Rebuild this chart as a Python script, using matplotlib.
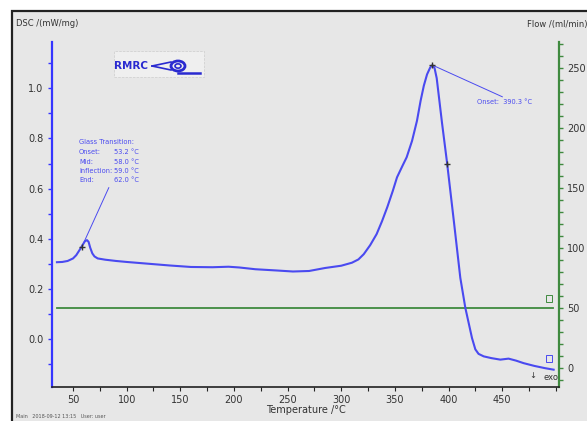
import matplotlib
matplotlib.use("Agg")
import matplotlib.pyplot as plt
from matplotlib.patches import Rectangle, Circle
from matplotlib.ticker import MultipleLocator

# ---- data ----
temperature = [35, 40, 45, 50, 53, 56, 59, 61, 63, 64.5, 66, 68, 70, 73, 80, 90, 100,
               120, 140, 160, 180, 195, 205, 220, 240, 255, 270, 285, 300, 310, 316,
               321, 327, 333, 338, 343, 348, 352, 357, 361, 366, 370.6, 374, 377, 380,
               383, 385, 387, 389, 391.5, 394, 398.6, 405, 411, 415.7, 421.9, 425, 428,
               432.8, 440, 448.3, 456, 463, 470, 480, 490, 498]
dsc = [0.307, 0.308, 0.312, 0.322, 0.335, 0.355, 0.376, 0.39, 0.395, 0.388, 0.365,
       0.342, 0.33, 0.322, 0.317, 0.312, 0.308, 0.301, 0.294, 0.288, 0.287, 0.289,
       0.286, 0.279, 0.274, 0.27, 0.272, 0.284, 0.293, 0.305, 0.318, 0.339, 0.375,
       0.419, 0.47, 0.527, 0.59, 0.645, 0.69, 0.725, 0.79, 0.87, 0.95, 1.01, 1.055,
       1.083, 1.092, 1.08, 1.04, 0.95, 0.86, 0.705, 0.47, 0.245, 0.125, 0.005, -0.04,
       -0.058, -0.068, -0.075, -0.081, -0.077, -0.085, -0.095, -0.106, -0.115, -0.121]
flow_temperature = [35, 497]
flow = [50, 50]
x_ticks = [50, 100, 150, 200, 250, 300, 350, 400, 450]
dsc_ticks = [0.0, 0.2, 0.4, 0.6, 0.8, 1.0]
flow_ticks = [0, 50, 100, 150, 200, 250]
gt_lines = ["Onset:", "Mid:", "Inflection:", "End:"]
gt_values = ["53.2 °C", "58.0 °C", "59.0 °C", "62.0 °C"]
marker_points = [(58, 0.366), (385, 1.092), (399, 0.70)]

W, H = 587, 421
fig = plt.figure(figsize=(W / 100, H / 100), dpi=100)
fig.patch.set_facecolor("white")

def fx(px):
    return px / W

def fy(py):
    return 1 - py / H

# grey panel with black frame
fig.patches.append(Rectangle((fx(12), fy(440)), fx(600), (440 - 11) / H,
                             transform=fig.transFigure, facecolor="#e7e7e7",
                             edgecolor="#222222", lw=1.6, zorder=-5))

blue = "#4a4af0"
spine_blue = "#3535ff"
green = "#3f8a3f"
tick_col = "#333333"

ax = fig.add_axes([fx(52), fy(387), fx(559 - 52), (387 - 42) / H])
ax.patch.set_alpha(0)
ax2 = ax.twinx()
ax2.patch.set_alpha(0)
ax.set_zorder(2)
ax2.set_zorder(1)

ax.plot(temperature, dsc, color=blue, lw=1.5, zorder=3, solid_joinstyle="round")
ax2.plot(flow_temperature, flow, color=green, lw=1.3, zorder=2)

ax.set_xlim(30.4, 503)
ax.set_ylim(-0.19, 1.184)
ax2.set_ylim(-15.8, 271.7)

for a in (ax, ax2):
    a.spines["top"].set_visible(False)
ax.spines["right"].set_visible(False)
ax2.spines["left"].set_visible(False)
ax2.spines["bottom"].set_visible(False)
ax.spines["left"].set_color(spine_blue)
ax.spines["left"].set_linewidth(1.6)
ax.spines["bottom"].set_color("#222222")
ax.spines["bottom"].set_linewidth(1.2)
ax2.spines["right"].set_color(green)
ax2.spines["right"].set_linewidth(1.6)

ax.set_xticks(x_ticks)
ax.xaxis.set_minor_locator(MultipleLocator(25))
ax.set_yticks(dsc_ticks)
ax.yaxis.set_minor_locator(MultipleLocator(0.1))
ax2.set_yticks(flow_ticks)
ax2.yaxis.set_minor_locator(MultipleLocator(10))

ax.tick_params(axis="x", which="both", length=3, width=0.8, colors="#222222",
               labelsize=7, labelcolor=tick_col, pad=3)
ax.tick_params(axis="y", which="both", length=3, width=1.0, colors=spine_blue,
               labelsize=7, labelcolor=tick_col, pad=3)
ax2.tick_params(axis="y", which="both", length=3, width=1.0, colors=green,
                labelsize=7, labelcolor=tick_col, pad=3)
ax.set_yticklabels([f"{v:.1f}" for v in dsc_ticks])

ax.set_xlabel("Temperature /°C", fontsize=7, color=tick_col, labelpad=0)

# axis titles
fig.text(fx(16), fy(24), "DSC /(mW/mg)", fontsize=6, color=tick_col, va="center")
fig.text(fx(527), fy(24), "Flow /(ml/min)", fontsize=6, color=tick_col, va="center")
fig.text(fx(16), fy(417), "Main   2018-09-12 13:15   User: user", fontsize=3.5,
         color="#555555", va="center")

# markers
for t, v in marker_points:
    ax.plot([t], [v], marker="+", color="#333333", ms=5, mew=1.0, zorder=4)

# glass transition annotation
gx, gy = fx(79), fy(142)
fig.text(gx, gy, "Glass Transition:", fontsize=4.8, color=blue, va="center")
for i, (lab, val) in enumerate(zip(gt_lines, gt_values)):
    yy = fy(152 + 9.5 * i)
    fig.text(gx, yy, lab, fontsize=4.8, color=blue, va="center")
    fig.text(fx(114), yy, val, fontsize=4.8, color=blue, va="center")
ax.annotate("", xy=(58, 0.366), xycoords="data",
            xytext=(fx(110), fy(185)), textcoords="figure fraction",
            arrowprops=dict(arrowstyle="-", color=blue, lw=0.7))

# onset annotation
ax.annotate("", xy=(385, 1.092), xycoords="data",
            xytext=(fx(505), fy(98)), textcoords="figure fraction",
            arrowprops=dict(arrowstyle="-", color=blue, lw=0.7))
fig.text(fx(477), fy(102), "Onset:  390.3 °C", fontsize=4.8, color=blue, va="center")

# exo marker
fig.text(fx(533), fy(376), "↓", fontsize=6, color="#333333", ha="center", va="center")
fig.text(fx(543), fy(377), "exo", fontsize=6, color="#333333", va="center")

# small curve-end icons
fig.patches.append(Rectangle((fx(546), fy(302)), 6 / W, 7 / H, transform=fig.transFigure,
                             facecolor="none", edgecolor=green, lw=0.7, zorder=5))
fig.patches.append(Rectangle((fx(546), fy(362)), 6 / W, 7 / H, transform=fig.transFigure,
                             facecolor="none", edgecolor=blue, lw=0.7, zorder=5))

# logo
fig.patches.append(Rectangle((fx(114), fy(77)), fx(90), 26 / H, transform=fig.transFigure,
                             facecolor="#efefef", edgecolor="#cccccc", lw=0.5,
                             ls="--", zorder=1))
fig.text(fx(114), fy(66), "RMRC", fontsize=7.5, fontweight="bold", color="#2a2ad0",
         va="center", zorder=3)
fig.patches.append(Circle((fx(178), fy(66)), 7 / W, transform=fig.transFigure,
                          facecolor="none", edgecolor="#2a2ad0", lw=2.0, zorder=3))
fig.patches.append(Circle((fx(178), fy(66)), 3 / W, transform=fig.transFigure,
                          facecolor="none", edgecolor="#2a2ad0", lw=1.2, zorder=3))
fig.lines.append(plt.Line2D([fx(152), fx(171)], [fy(66), fy(62)],
                            transform=fig.transFigure, color="#2a2ad0", lw=1.2))
fig.lines.append(plt.Line2D([fx(152), fx(171)], [fy(66), fy(70)],
                            transform=fig.transFigure, color="#2a2ad0", lw=1.2))
fig.lines.append(plt.Line2D([fx(178), fx(200)], [fy(73), fy(73)],
                            transform=fig.transFigure, color="#2a2ad0", lw=1.8))

fig.savefig("out.png", dpi=100)
